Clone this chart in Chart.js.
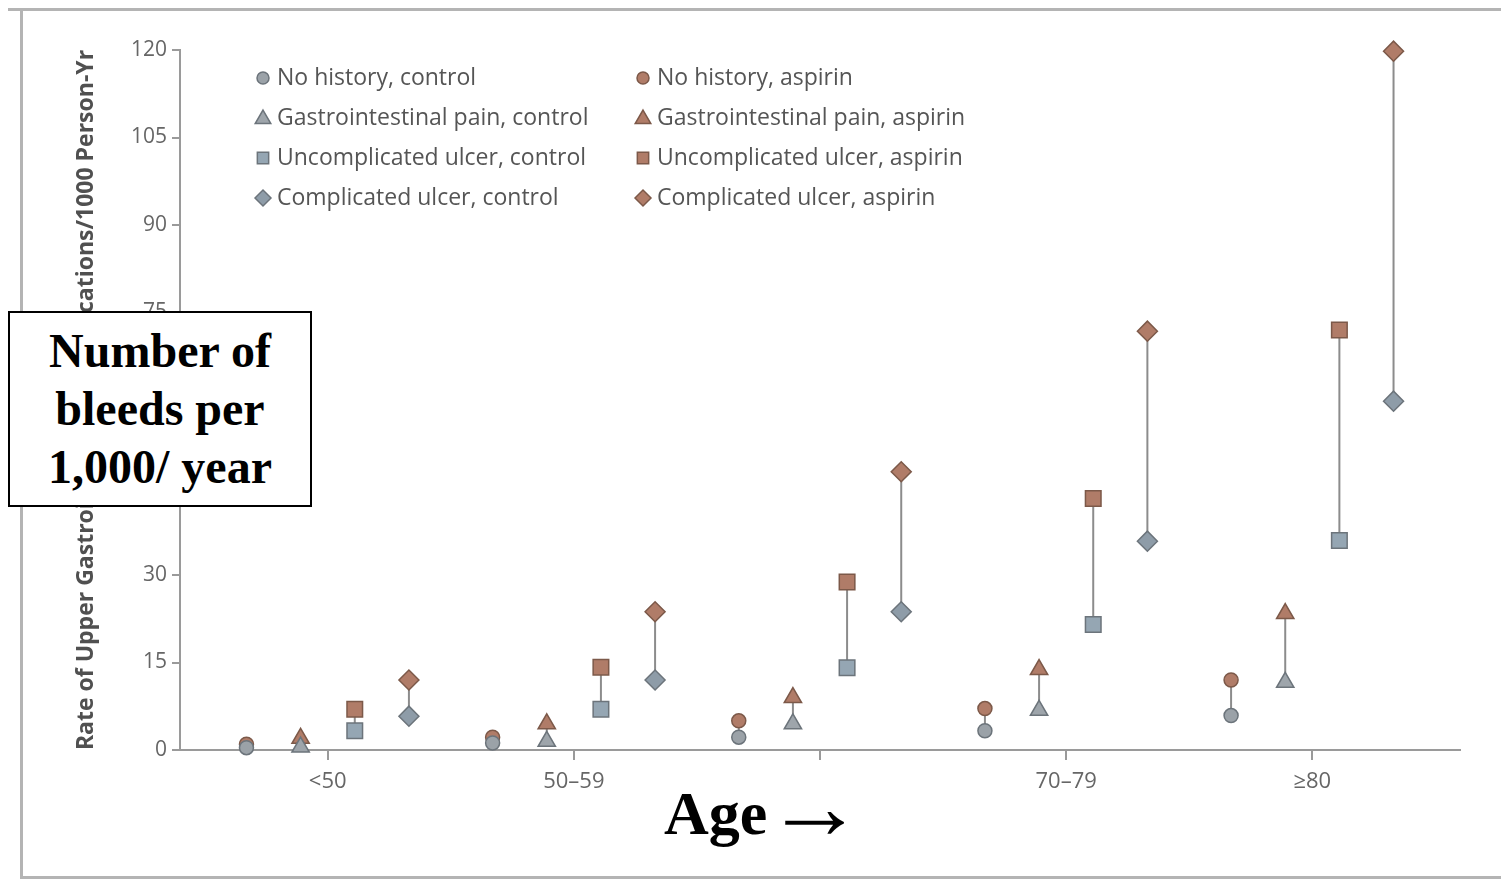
<!DOCTYPE html>
<html>
<head>
<meta charset="utf-8">
<script src="https://cdn.jsdelivr.net/npm/chart.js@4.4.1/dist/chart.umd.min.js"></script>
<style>
  html, body { margin: 0; padding: 0; background: #fff; }
  #wrap { position: relative; width: 1501px; height: 879px; overflow: hidden; }
  #c { position: absolute; left: 0; top: 0; }
  .frame { position: absolute; background: #b4b4b4; }
  #box {
    position: absolute; left: 8px; top: 311px; width: 304px; height: 196px;
    box-sizing: border-box; border: 2px solid #000; background: #fff;
    display: flex; align-items: center; justify-content: center; text-align: center;
    font: bold 48px "Liberation Serif", "Times New Roman", serif; line-height: 58px; color: #000;
  }
  #age {
    position: absolute; left: 664px; top: 782px; white-space: nowrap;
    font: bold 62px "Liberation Serif", "Times New Roman", serif; line-height: 62px; color: #000;
  }
  #age span { display: inline-block; margin-left: -2px; transform: translateY(-7px) scale(1.6, 1.5); transform-origin: left center; }
</style>
</head>
<body>
<div id="wrap">
  <canvas id="c" width="1501" height="879"></canvas>
  <div class="frame" style="left:8px;top:8px;width:1493px;height:3px;"></div>
  <div class="frame" style="left:20px;top:8px;width:3px;height:871px;"></div>
  <div class="frame" style="left:20px;top:876px;width:1481px;height:3px;"></div>
  <div id="box">Number of<br>bleeds per<br>1,000/ year</div>
  <div id="age">Age<span>&rarr;</span></div>
</div>
<script>
// age groups (x axis)
const ageGroups = ['<50', '50–59', '60–69', '70–79', '≥80'];
// the 60-69 label is not shown in the picture
const tickLabels = ['<50', '50–59', '', '70–79', '≥80'];
const yTicks = [0, 15, 30, 45, 60, 75, 90, 105, 120];

// rate of upper GI complications / 1000 person-yr
const noHistoryControl = [0.4, 1.2, 2.2, 3.3, 5.9];
const noHistoryAspirin = [1.0, 2.2, 5.0, 7.1, 12.0];
const giPainControl = [0.5, 1.5, 4.5, 6.8, 11.6];
const giPainAspirin = [2.0, 4.5, 9.0, 13.8, 23.4];
const uncompControl = [3.3, 7.0, 14.1, 21.5, 35.9];
const uncompAspirin = [7.0, 14.2, 28.8, 43.1, 72.0];
const compControl = [5.8, 12.0, 23.7, 35.8, 59.8];
const compAspirin = [12.0, 23.7, 47.7, 71.8, 119.8];

const seriesNames = [
  'No history, control', 'No history, aspirin',
  'Gastrointestinal pain, control', 'Gastrointestinal pain, aspirin',
  'Uncomplicated ulcer, control', 'Uncomplicated ulcer, aspirin',
  'Complicated ulcer, control', 'Complicated ulcer, aspirin'
];
const seriesValues = [
  noHistoryControl, noHistoryAspirin,
  giPainControl, giPainAspirin,
  uncompControl, uncompAspirin,
  compControl, compAspirin
];

// look of the marks
const slotOffset = [-0.33, -0.11, 0.11, 0.33];
const styles = ['circle', 'triangle', 'rect', 'rectRot'];
const radii = [7, 10, 11, 10];
const legendRadii = [6, 9, 8, 8];
const ctrlFill = ['#9ba2a8', '#9ea5ab', '#95a6b3', '#8e9ca8'];
const ctrlLine = '#6c747b';
const aspFill = '#b07c68';
const aspLine = '#7c5949';

const datasets = seriesNames.map((name, i) => {
  const slot = Math.floor(i / 2);
  const isAsp = i % 2 === 1;
  return {
    label: name,
    data: seriesValues[i].map((v, g) => ({ x: g + slotOffset[slot], y: v })),
    pointStyle: styles[slot],
    pointRadius: radii[slot],
    pointHoverRadius: radii[slot],
    backgroundColor: isAsp ? aspFill : ctrlFill[slot],
    borderColor: isAsp ? aspLine : ctrlLine,
    borderWidth: 1.5,
    showLine: false,
    clip: false
  };
});

// grey stalk from each control point to its aspirin point
const stalks = {
  id: 'stalks',
  beforeDatasetsDraw(chart) {
    const ctx = chart.ctx;
    ctx.save();
    ctx.strokeStyle = '#8c8c8c';
    ctx.lineWidth = 2;
    for (let s = 0; s < 4; s++) {
      const a = chart.getDatasetMeta(2 * s).data;
      const b = chart.getDatasetMeta(2 * s + 1).data;
      a.forEach((p, i) => {
        ctx.beginPath();
        ctx.moveTo(p.x, p.y);
        ctx.lineTo(b[i].x, b[i].y);
        ctx.stroke();
      });
    }
    ctx.restore();
  }
};

// two column legend inside the plot
const legendBox = {
  id: 'legendBox',
  afterDraw(chart) {
    const ctx = chart.ctx;
    ctx.save();
    ctx.font = '23px "Open Sans", sans-serif';
    ctx.textBaseline = 'middle';
    ctx.textAlign = 'left';
    seriesNames.forEach((name, i) => {
      const slot = Math.floor(i / 2);
      const col = i % 2;
      const x = col === 0 ? 263 : 643;
      const y = 78 + slot * 40;
      ctx.fillStyle = col ? aspFill : ctrlFill[slot];
      ctx.strokeStyle = col ? aspLine : ctrlLine;
      ctx.lineWidth = 1.5;
      Chart.helpers.drawPoint(ctx, { pointStyle: styles[slot], radius: legendRadii[slot], rotation: 0, borderWidth: 1.5 }, x, y + (slot === 1 ? 1 : 0));
      ctx.fillStyle = '#555';
      ctx.fillText(name, x + 14, y);
    });
    ctx.restore();
  }
};

Chart.defaults.font.family = '"Open Sans", sans-serif';
Chart.defaults.color = '#666';

new Chart(document.getElementById('c'), {
  type: 'scatter',
  data: { datasets },
  plugins: [stalks, legendBox],
  options: {
    responsive: false,
    animation: false,
    layout: { padding: { left: 0, right: 41, top: 50, bottom: 89 } },
    plugins: { legend: { display: false }, tooltip: { enabled: false } },
    scales: {
      x: {
        type: 'linear',
        min: -0.6,
        max: 4.6,
        afterBuildTicks(scale) { scale.ticks = ageGroups.map((g, i) => ({ value: i })); },
        afterFit(scale) { scale.height = 40; },
        ticks: {
          font: { size: 22 },
          color: '#666',
          padding: 9,
          callback: (v) => tickLabels[v]
        },
        grid: { drawOnChartArea: false, tickLength: 10, color: '#9a9a9a', lineWidth: 2 },
        border: { color: '#9a9a9a', width: 2 }
      },
      y: {
        min: 0,
        max: 120,
        afterBuildTicks(scale) { scale.ticks = yTicks.map(v => ({ value: v })); },
        afterFit(scale) { scale.width = 180; },
        ticks: { font: { size: 21 }, color: '#666', padding: 5 },
        grid: { drawOnChartArea: false, tickLength: 8, color: '#9a9a9a', lineWidth: 2 },
        border: { color: '#9a9a9a', width: 2 },
        title: {
          display: true,
          text: 'Rate of Upper Gastrointestinal Complications/1000 Person-Yr',
          font: { size: 23, weight: 'bold' },
          color: '#505050',
          padding: { top: 73, bottom: 0 }
        }
      }
    }
  }
});
</script>
</body>
</html>
